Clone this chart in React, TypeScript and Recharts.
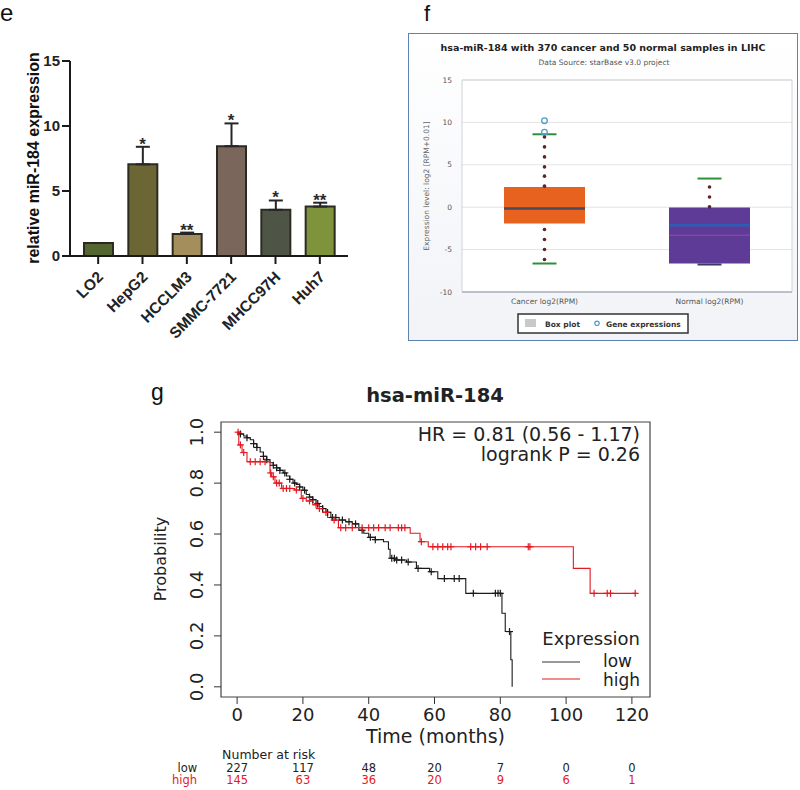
import React from 'react'
import {
  ComposedChart, Bar, Cell, ErrorBar, XAxis, YAxis, Line, Scatter,
  CartesianGrid, ReferenceArea,
} from 'recharts'

// ---- panel e: relative miR-184 expression (qPCR) ----
const cellLines = ['LO2', 'HepG2', 'HCCLM3', 'SMMC-7721', 'MHCC97H', 'Huh7']
const relExpr = [1.0, 7.05, 1.7, 8.45, 3.55, 3.8]
const relSd = [0, 1.35, 0.1, 1.75, 0.72, 0.3]
const sigStars = ['', '*', '**', '*', '*', '**']
const barColors = ['#55652f', '#6c6634', '#a48e5c', '#7a665a', '#4e5546', '#7f923c']
const exprTicks = [0, 5, 10, 15]

// ---- panel f: starBase box plot ----
const boxGroups = ['Cancer log2(RPM)', 'Normal log2(RPM)']
const boxQ1 = [-1.92, -6.64]
const boxQ3 = [2.39, -0.04]
const boxMedian = [-0.16, -2.12]
const boxMean = [null, -3.3]
const whiskerHigh = [8.6, 3.38]
const whiskerLow = [-6.64, -6.76]
const cancerDots = [8.29, 7.11, 5.93, 4.75, 3.66, 2.48, -2.63, -3.81, -4.99, -6.17]
const normalDots = [2.39, 1.21, 0.04]
const cancerOutliers = [10.2, 8.85]
const levelTicks = [-10, -5, 0, 5, 10, 15]
const boxColors = ['#e8621f', '#5e3b96']
const medianColors = ['#4a4a5c', '#2d5cb6']

// ---- panel g: Kaplan-Meier ----
const lowTimes = [0, 1, 2, 3, 4, 5, 6, 7, 8, 9, 10, 11, 12, 13, 14, 15, 16, 17, 18, 19, 20, 21, 22, 23, 24, 25, 26, 27, 28.5, 31, 33, 35, 37, 38.5, 40, 42, 44.5, 46, 46.5, 48, 51.5, 54.5, 58.5, 61, 69.5, 80.5, 81.5, 83.2, 83.6]
const lowSurv = [1, 0.993, 0.985, 0.978, 0.97, 0.955, 0.94, 0.922, 0.905, 0.892, 0.88, 0.87, 0.86, 0.85, 0.84, 0.828, 0.815, 0.8, 0.795, 0.785, 0.772, 0.755, 0.745, 0.735, 0.72, 0.708, 0.7, 0.685, 0.665, 0.655, 0.648, 0.64, 0.615, 0.603, 0.587, 0.578, 0.57, 0.54, 0.505, 0.498, 0.49, 0.465, 0.452, 0.425, 0.367, 0.289, 0.217, 0.106, 0]
const highTimes = [0, 0.5, 1.5, 3, 10, 10.5, 11.5, 13.5, 17.5, 19.5, 21, 23, 24.5, 26, 27.5, 28.8, 30.8, 52.6, 55.6, 58.1, 102.2, 107.3, 121.5]
const highSurv = [1, 0.95, 0.92, 0.884, 0.84, 0.825, 0.8, 0.779, 0.773, 0.74, 0.73, 0.715, 0.7, 0.685, 0.665, 0.655, 0.625, 0.603, 0.57, 0.55, 0.465, 0.367, 0.367]
const lowCensored = [1, 3, 5, 6, 8, 9, 11, 12, 13, 14.5, 16, 17.5, 19, 20.5, 22, 23, 24.5, 26, 27.5, 29, 30, 32, 34, 36, 38, 40.5, 42, 47, 47.8, 48.5, 50, 52, 55, 59, 63, 66, 67.5, 71.8, 78.5, 79.3, 80, 82.8]
const highCensored = [0.3, 1, 2, 4, 5.5, 7, 8.5, 10.2, 11, 12, 12.8, 14, 15, 16, 18, 20, 22, 24, 25, 27, 29.5, 31.5, 33, 35, 38, 40, 41.5, 43, 45, 46.5, 49, 50, 51, 56, 59.5, 61, 62.5, 64, 65, 71, 72.5, 74, 76, 88.5, 89, 108.5, 112.5, 113.5, 121]
const riskTimes = [0, 20, 40, 60, 80, 100, 120]
const riskLow = [227, 117, 48, 20, 7, 0, 0]
const riskHigh = [145, 63, 36, 20, 9, 6, 1]
const probTicks = [0, 0.2, 0.4, 0.6, 0.8, 1]

const RED = '#e31a22'
const ARIAL = 'Liberation Sans, Arial, sans-serif'
const DJV = 'DejaVu Sans, sans-serif'

// ---------- panel e ----------
const exprRows = cellLines.map((name, i) => ({
  name,
  mean: relExpr[i],
  err: [0, relSd[i]],
  top: relExpr[i] + relSd[i],
  star: sigStars[i],
}))

const CellTick = ({ x, y, payload }: any) => (
  <text x={x + 6} y={y + 12} transform={`rotate(-45 ${x + 6} ${y + 12})`} textAnchor="end"
    fontSize={15.5} fontWeight="bold" fill="#222" fontFamily={ARIAL}>{payload.value}</text>
)

const StarMark = ({ cx, cy, payload }: any) =>
  payload.star ? (
    <text x={cx} y={cy + 3} textAnchor="middle" fontSize={17} fontWeight="bold" fill="#2a2a2a" fontFamily={ARIAL}>
      {payload.star}
    </text>
  ) : <g />

function ExpressionBars() {
  return (
    <ComposedChart width={380} height={354} data={exprRows} margin={{ top: 61, right: 32, bottom: 0, left: 20 }}>
      <XAxis dataKey="name" padding={{ left: 6, right: 6 }} height={98} interval={0} tick={<CellTick />}
        tickSize={8} axisLine={{ stroke: '#1a1a1a', strokeWidth: 2 }} tickLine={{ stroke: '#1a1a1a', strokeWidth: 2 }} />
      <YAxis domain={[0, 15]} ticks={exprTicks} width={50} tickSize={8} tickMargin={2}
        tick={{ fontSize: 15, fontWeight: 'bold', fill: '#222', fontFamily: ARIAL }}
        axisLine={{ stroke: '#1a1a1a', strokeWidth: 2 }} tickLine={{ stroke: '#1a1a1a', strokeWidth: 2 }} />
      <Bar dataKey="mean" barSize={29} stroke="#2b2b22" strokeWidth={2} isAnimationActive={false}>
        {exprRows.map((r, i) => <Cell key={r.name} fill={barColors[i]} />)}
        <ErrorBar dataKey="err" width={7} stroke="#262626" strokeWidth={2} direction="y" />
      </Bar>
      <Scatter dataKey="top" shape={<StarMark />} isAnimationActive={false} />
    </ComposedChart>
  )
}

// ---------- panel f ----------
const boxRows = boxGroups.map((g, i) => ({ x: i + 0.5, range: [boxQ1[i], boxQ3[i]] }))
const medianRows = boxGroups.map((g, i) => ({ x: i + 0.5, y: boxMedian[i], c: medianColors[i] }))
const meanRows = boxGroups.map((g, i) => ({ x: i + 0.5, y: boxMean[i] })).filter(r => r.y !== null)
const whiskerRows = [
  { x: 0.5, y: whiskerHigh[0], c: '#2f8f3c' }, { x: 0.5, y: whiskerLow[0], c: '#2f8f3c' },
  { x: 1.5, y: whiskerHigh[1], c: '#2f8f3c' }, { x: 1.5, y: whiskerLow[1], c: '#3c3a6a' },
]
const dotRows = [
  ...cancerDots.map(y => ({ x: 0.5, y })),
  ...normalDots.map(y => ({ x: 1.5, y })),
]
const outlierRows = cancerOutliers.map(y => ({ x: 0.5, y }))

const hLine = (w: number, sw: number, color?: string) => (p: any) => (
  <line x1={p.cx - w / 2} x2={p.cx + w / 2} y1={p.cy} y2={p.cy} stroke={color || p.payload.c} strokeWidth={sw} />
)

function StarbaseBox() {
  return (
    <ComposedChart width={400} height={300} data={boxRows} margin={{ top: 50, right: 8, bottom: 18, left: 32 }}>
      <CartesianGrid vertical={false} stroke="#e3e3e3" fill="#ffffff" />
      <XAxis dataKey="x" type="number" domain={[0, 2]} ticks={[0.5, 1.5]} height={20}
        tickFormatter={(v: number) => boxGroups[Math.floor(v)]} tickLine={false} tickSize={5}
        axisLine={{ stroke: '#b9c0cc', strokeWidth: 2 }}
        tick={{ fontSize: 7.5, fill: '#555', fontFamily: DJV }} />
      <YAxis domain={[-10, 15]} ticks={levelTicks} width={30} tickLine={false} tickSize={4} tickMargin={6}
        axisLine={false} tick={{ fontSize: 7.5, fill: '#555', fontFamily: DJV }} />
      <ReferenceArea x1={0} x2={2} y1={-10} y2={15} fill="none" stroke="#cfd3da" strokeWidth={1} />
      <Bar dataKey="range" barSize={81} isAnimationActive={false}>
        {boxRows.map((r, i) => <Cell key={i} fill={boxColors[i]} />)}
      </Bar>
      <Scatter data={meanRows} dataKey="y" shape={hLine(81, 1, '#9a4aa6')} isAnimationActive={false} />
      <Scatter data={medianRows} dataKey="y" shape={hLine(81, 2.5)} isAnimationActive={false} />
      <Scatter data={whiskerRows} dataKey="y" shape={hLine(24, 2)} isAnimationActive={false} />
      <Scatter data={dotRows} dataKey="y" fill="#5a2626"
        shape={(p: any) => <circle cx={p.cx} cy={p.cy} r={1.8} fill="#5a2626" />} isAnimationActive={false} />
      <Scatter data={outlierRows} dataKey="y"
        shape={(p: any) => <circle cx={p.cx} cy={p.cy} r={2.8} fill="none" stroke="#4aa0c8" strokeWidth={1.3} />}
        isAnimationActive={false} />
    </ComposedChart>
  )
}

// ---------- panel g ----------
const curve = (ts: number[], ps: number[]) => ts.map((t, i) => ({ t, p: ps[i] }))
const survAt = (ts: number[], ps: number[], t: number) => {
  let v = ps[0]
  ts.forEach((x, i) => { if (x <= t) v = ps[i] })
  return v
}
const lowCurve = curve(lowTimes, lowSurv)
const highCurve = curve(highTimes, highSurv)
const lowMarks = lowCensored.map(t => ({ t, p: survAt(lowTimes, lowSurv, t) }))
const highMarks = highCensored.map(t => ({ t, p: survAt(highTimes, highSurv, t) }))

const plus = (color: string) => (p: any) => (
  <g stroke={color} strokeWidth={1.2}>
    <line x1={p.cx - 3.5} x2={p.cx + 3.5} y1={p.cy} y2={p.cy} />
    <line x1={p.cx} x2={p.cx} y1={p.cy - 3.5} y2={p.cy + 3.5} />
  </g>
)

const TimeTick = ({ x, y, payload }: any) => {
  const i = riskTimes.indexOf(payload.value)
  return (
    <g fontFamily={DJV}>
      <text x={x} y={y + 15} textAnchor="middle" fontSize={18} fill="#222">{payload.value}</text>
      <text x={x} y={y + 65.5} textAnchor="middle" fontSize={11.5} fill="#222">{riskLow[i]}</text>
      <text x={x} y={y + 78} textAnchor="middle" fontSize={11.5} fill={RED}>{riskHigh[i]}</text>
      {i === 0 && (
        <g fontSize={11.5}>
          <text x={x - 15} y={y + 53} fontSize={12.5} fill="#222">Number at risk</text>
          <text x={x - 40} y={y + 65.5} textAnchor="end" fill="#222">low</text>
          <text x={x - 40} y={y + 78} textAnchor="end" fill={RED}>high</text>
        </g>
      )}
    </g>
  )
}

const ProbTick = ({ x, y, payload }: any) => (
  <text x={x} y={y} transform={`rotate(-90 ${x} ${y})`} textAnchor="middle" fontSize={18} fill="#222" fontFamily={DJV}>
    {payload.value.toFixed(1)}
  </text>
)

function SurvivalPlot() {
  return (
    <ComposedChart width={520} height={415} margin={{ top: 47, right: 10, bottom: 3, left: 21 }}>
      <XAxis dataKey="t" type="number" domain={[-4.9, 125.5]} ticks={riskTimes} height={90} tickSize={7} tickMargin={2}
        axisLine={false} tickLine={{ stroke: '#333' }} tick={<TimeTick />} allowDataOverflow
        label={{ value: 'Time (months)', position: 'insideTop', offset: 33, fontSize: 19, fill: '#222', fontFamily: DJV }} />
      <YAxis type="number" domain={[-0.04, 1.04]} ticks={probTicks} width={60} tickSize={7} tickMargin={11}
        axisLine={false} tickLine={{ stroke: '#333' }} tick={<ProbTick />} allowDataOverflow />
      <ReferenceArea x1={-4.9} x2={125.5} y1={-0.04} y2={1.04} fill="none" stroke="#444" strokeWidth={1.2} />
      <Line data={lowCurve} dataKey="p" type="stepAfter" stroke="#1a1a1a" strokeWidth={1.1} dot={false} isAnimationActive={false} />
      <Line data={highCurve} dataKey="p" type="stepAfter" stroke={RED} strokeWidth={1.1} dot={false} isAnimationActive={false} />
      <Scatter data={lowMarks} dataKey="p" shape={plus('#1a1a1a')} isAnimationActive={false} />
      <Scatter data={highMarks} dataKey="p" shape={plus(RED)} isAnimationActive={false} />
    </ComposedChart>
  )
}

export default function App() {
  return (
    <div style={{ position: 'absolute', left: 0, top: 0, width: 800, height: 790, background: '#fff', overflow: 'hidden' }}>
      <div style={{ position: 'absolute', left: 0, top: 0 }}><ExpressionBars /></div>

      <div style={{
        position: 'absolute', left: 408, top: 33, width: 390, height: 308, boxSizing: 'border-box',
        border: '1.5px solid #5f82b4', background: 'linear-gradient(180deg, #ffffff 0%, #f1f3f7 100%)',
      }} />
      <div style={{ position: 'absolute', left: 400, top: 30 }}><StarbaseBox /></div>

      <div style={{ position: 'absolute', left: 140, top: 375 }}><SurvivalPlot /></div>

      <svg width={800} height={790} style={{ position: 'absolute', left: 0, top: 0, pointerEvents: 'none' }}>
        <g fontFamily={ARIAL} fill="#111">
          <text x={0} y={21} fontSize={24}>e</text>
          <text x={424} y={21} fontSize={22}>f</text>
          <text x={151} y={400} fontSize={23}>g</text>
          <text x={39} y={158} transform="rotate(-90 39 158)" textAnchor="middle" fontSize={16} fontWeight="bold">
            relative miR-184 expression
          </text>
        </g>
        <g fontFamily={DJV}>
          <text x={603} y={51} textAnchor="middle" fontSize={9.5} fontWeight="bold" fill="#222">
            hsa-miR-184 with 370 cancer and 50 normal samples in LIHC
          </text>
          <text x={604} y={65} textAnchor="middle" fontSize={7.5} fill="#555">Data Source: starBase v3.0 project</text>
          <text x={429} y={186} transform="rotate(-90 429 186)" textAnchor="middle" fontSize={7.5} fill="#666">
            Expression level: log2 [RPM+0.01]
          </text>
          <rect x={518} y={314} width={170} height={19} fill="#fff" stroke="#333" strokeWidth={1.5} />
          <rect x={525} y={319} width={11} height={8} fill="#c9c9c9" />
          <text x={545} y={326.5} fontSize={7.5} fontWeight="bold" fill="#333">Box plot</text>
          <circle cx={597} cy={323.3} r={2.2} fill="none" stroke="#4aa0c8" strokeWidth={1.2} />
          <text x={606} y={326.5} fontSize={7.5} fontWeight="bold" fill="#333">Gene expressions</text>

          <text x={435} y={402} textAnchor="middle" fontSize={19.5} fontWeight="bold" fill="#222">hsa-miR-184</text>
          <text x={166} y={559} transform="rotate(-90 166 559)" textAnchor="middle" fontSize={16} fill="#222">Probability</text>
          <text x={640} y={441} textAnchor="end" fontSize={19} fill="#222">HR = 0.81 (0.56 - 1.17)</text>
          <text x={640} y={461} textAnchor="end" fontSize={19} fill="#222">logrank P = 0.26</text>
          <text x={640} y={645} textAnchor="end" fontSize={18} fill="#222">Expression</text>
          <line x1={542} x2={580} y1={662} y2={662} stroke="#333" strokeWidth={1} />
          <text x={632} y={667} textAnchor="end" fontSize={17} fill="#222">low</text>
          <line x1={542} x2={580} y1={679} y2={679} stroke={RED} strokeWidth={1} />
          <text x={640} y={686} textAnchor="end" fontSize={17} fill="#222">high</text>
        </g>
      </svg>
    </div>
  )
}
